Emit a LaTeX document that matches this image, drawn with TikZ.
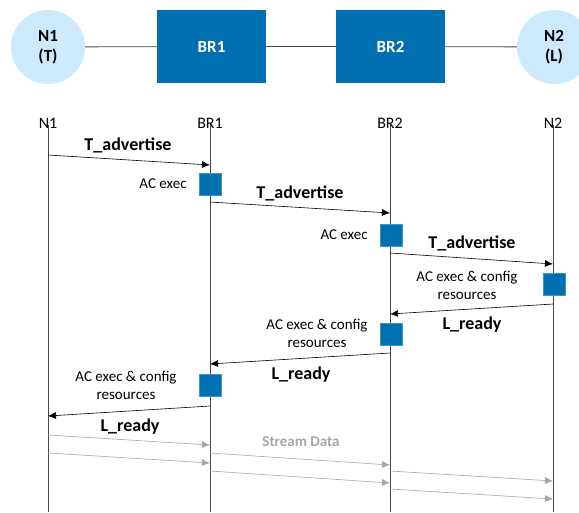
\documentclass[tikz,border=0pt]{standalone}
\usepackage{fontspec}
\setmainfont{Carlito}
\usetikzlibrary{arrows.meta,positioning}
\definecolor{brblue}{RGB}{0,112,176}
\definecolor{endcyan}{RGB}{204,234,251}
\definecolor{streamgray}{RGB}{166,166,166}
\definecolor{lifegray}{RGB}{70,70,70}

\begin{document}
\begin{tikzpicture}[x=1pt,y=-1pt,
  endnode/.style={circle,fill=endcyan,minimum size=74pt,inner sep=0pt,
    align=center,font=\fontsize{17}{20}\selectfont\bfseries},
  brnode/.style={fill=brblue,text=white,minimum width=109pt,minimum height=73pt,
    font=\fontsize{17}{20}\selectfont\bfseries},
  head/.style={font=\fontsize{16}{19}\selectfont,inner sep=0pt},
  acbox/.style={fill=brblue,draw=brblue!75!white,minimum size=22pt,inner sep=0pt},
  note/.style={align=center,font=\fontsize{15}{18}\selectfont,inner sep=0pt},
  msglabel/.style={font=\fontsize{18}{21}\selectfont\bfseries,inner sep=0pt},
  msg/.style={-{Latex[length=8pt,width=7pt]},black,semithick},
  stream/.style={-{Latex[length=8pt,width=7pt]},streamgray,semithick},
  lifeline/.style={lifegray,thick}]

  \useasboundingbox (0,0) rectangle (579,512);

  % Topology: N1 -- BR1 -- BR2 -- N2
  \node[endnode] (n1) at (48,47) {N1\\(T)};
  \node[brnode] (br1) at (211.5,46.5) {BR1};
  \node[brnode] (br2) at (390.5,46.5) {BR2};
  \node[endnode] (n2) at (554,47) {N2\\(L)};
  \draw[lifegray,thick] (n1) -- (br1) -- (br2) -- (n2);

  % Lifeline heads
  \node[head] (hN1) at (48,123) {N1};
  \node[head] (hBR1) at (210,123) {BR1};
  \node[head] (hBR2) at (390,123) {BR2};
  \node[head] (hN2) at (553,123) {N2};

  % Lifelines
  \coordinate (eN1) at (48,512);
  \coordinate (eBR1) at (210,512);
  \coordinate (eBR2) at (390,512);
  \coordinate (eN2) at (553,512);
  \draw[lifeline] (hN1.south) ++(0,-3) -- (eN1);
  \draw[lifeline] (hBR1.south) ++(0,-3) -- (eBR1);
  \draw[lifeline] (hBR2.south) ++(0,-3) -- (eBR2);
  \draw[lifeline] (hN2.south) ++(0,-3) -- (eN2);

  % Message end points
  \coordinate (m1a) at (48,155);  \coordinate (m1b) at (210,165);
  \coordinate (m2a) at (210,202); \coordinate (m2b) at (390,213);
  \coordinate (m3a) at (390,253); \coordinate (m3b) at (553,264);
  \coordinate (m4a) at (553,304); \coordinate (m4b) at (390,314);
  \coordinate (m5a) at (390,353); \coordinate (m5b) at (210,364);
  \coordinate (m6a) at (210,406); \coordinate (m6b) at (48,416);

  % T_advertise, hop by hop
  \draw[msg] (m1a) -- (m1b);
  \node[msglabel] (t1) at (128,145) {T\_advertise};
  \node[acbox] (ac1) at (210,184) {};
  \node[note,left=12pt of ac1] (ac1txt) {AC exec};

  \draw[msg] (m2a) -- (m2b);
  \node[msglabel] (t2) at (300,193) {T\_advertise};
  \node[acbox] (ac2) at (391,235) {};
  \node[note,left=12pt of ac2] (ac2txt) {AC exec};

  \draw[msg] (m3a) -- (m3b);
  \node[msglabel] (t3) at (472,243) {T\_advertise};
  \node[acbox] (ac3) at (554,284) {};
  \node[note] (ac3txt) at (467,285) {AC exec \& config\\resources};

  % L_ready back towards N1
  \draw[msg] (m4a) -- (m4b);
  \node[msglabel] (l1) at (472,325) {L\_ready};
  \node[acbox] (ac4) at (391,334) {};
  \node[note] (ac4txt) at (317,333) {AC exec \& config\\resources};

  \draw[msg] (m5a) -- (m5b);
  \node[msglabel] (l2) at (301,375) {L\_ready};
  \node[acbox] (ac5) at (210,385) {};
  \node[note] (ac5txt) at (126,385) {AC exec \& config\\resources};

  \draw[msg] (m6a) -- (m6b);
  \node[msglabel] (l3) at (130,427) {L\_ready};

  % Stream data
  \coordinate (s1a) at (48,435);  \coordinate (s1b) at (210,445);
  \coordinate (s2a) at (48,453);  \coordinate (s2b) at (210,463);
  \coordinate (s3a) at (210,453); \coordinate (s3b) at (390,465);
  \coordinate (s4a) at (210,471); \coordinate (s4b) at (390,483);
  \coordinate (s5a) at (390,471); \coordinate (s5b) at (553,481);
  \coordinate (s6a) at (390,489); \coordinate (s6b) at (553,499);
  \draw[stream] (s1a) -- (s1b);
  \draw[stream] (s2a) -- (s2b);
  \draw[stream] (s3a) -- (s3b);
  \draw[stream] (s4a) -- (s4b);
  \draw[stream] (s5a) -- (s5b);
  \draw[stream] (s6a) -- (s6b);
  \node[font=\fontsize{15}{18}\selectfont\bfseries,text=streamgray,inner sep=0pt]
    (sd) at (301,442) {Stream Data};

\end{tikzpicture}
\end{document}
